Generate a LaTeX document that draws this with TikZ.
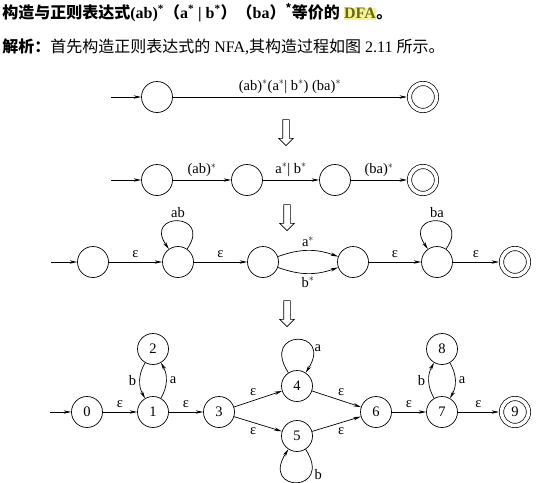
\documentclass[tikz,border=0pt]{standalone}
\usepackage{fontspec}
\setmainfont{Liberation Serif}
\newfontfamily\cjk{Noto Sans CJK SC}
\usepackage{tikz}
\usetikzlibrary{arrows.meta}
\usetikzlibrary{shapes.arrows}
\usetikzlibrary{positioning}
\definecolor{hlyellow}{rgb}{0.96,0.95,0.62}
\definecolor{dfaolive}{rgb}{0.42,0.42,0.05}

\begin{document}
\begin{tikzpicture}[->,
                    >={Stealth[length=7.5pt,width=3.4pt]},
                    x=1pt, y=-1pt,
                    line width=0.7pt,
                    font=\fontsize{14.5}{16}\selectfont,
                    nss/.style={circle,draw,minimum size=31pt,inner sep=0pt,font=\fontsize{14.5}{16}\selectfont},
                    fin/.style={nss,double,double distance=3.6pt,minimum size=27pt,outer sep=2.5pt},
                    dnarrow/.style={single arrow,draw,fill=white,rotate=-90,minimum height=26pt,inner sep=3pt,
                                    single arrow head extend=4pt,single arrow tip angle=90,line width=0.6pt},
                    %lbl/.style={inner sep=1pt}
                    ]
  \useasboundingbox (0,0) rectangle (554,482);
  % heading
  \node[anchor=west,inner sep=0pt] (title) at (2,13) {\fontsize{16}{18}\selectfont\bfseries\cjk
      构造与正则表达式{\rmfamily (ab)\textsuperscript{*}}（{\rmfamily a\textsuperscript{*} | b\textsuperscript{*}}）（{\rmfamily ba}）\textsuperscript{*}等价的
      {\setlength\fboxsep{0.5pt}\colorbox{hlyellow}{\textcolor{dfaolive}{\rmfamily DFA}}}。};
  \node[anchor=west,inner sep=0pt] (note) at (2,47) {\fontsize{16}{18}\selectfont
      {\cjk\bfseries 解析：}{\cjk 首先构造正则表达式的} NFA,{\cjk 其构造过程如图} 2.11 {\cjk 所示。}};

  % step 1
  \node[nss] (a0) at (157,97) {};
  \node[fin] (a1) at (423,97) {};
  \coordinate (s1) at (111,97);
  \draw (s1) -- (a0);
  \draw (a0) -- node[above] {(ab)$^*$(a$^*$| b$^*$) (ba)$^*$} (a1);
  \node[dnarrow] (d1) at (286,131) {};

  % step 2
  \node[nss] (b0) at (157,180) {};
  \node[nss] (b1) at (247,180) {};
  \node[nss] (b2) at (335,180) {};
  \node[fin] (b3) at (423,180) {};
  \coordinate (s2) at (111,180);
  \draw (s2) -- (b0);
  \draw (b0) -- node[above] {(ab)$^*$} (b1);
  \draw (b1) -- node[above] {a$^*$| b$^*$} (b2);
  \draw (b2) -- node[above] {(ba)$^*$} (b3);
  \node[dnarrow] (d2) at (287,216) {};

  % step 3
  \node[nss] (c0) at (93,262) {};
  \node[nss] (c1) at (178,262) {};
  \node[nss] (c2) at (263,262) {};
  \node[nss] (c3) at (353,262) {};
  \node[nss] (c4) at (437,262) {};
  \node[fin] (c5) at (515,262) {};
  \coordinate (s3) at (51,262);
  \draw (s3) -- (c0);
  \draw (c0) -- node[above=1pt] {ε} (c1);
  \draw (c1) edge[out=55,in=125,looseness=6.4] node[above] {ab} (c1);
  \draw (c1) -- node[above=1pt] {ε} (c2);
  \draw (c2) edge[bend left=20] node[above] {a$^*$} (c3);
  \draw (c2) edge[bend right=20] node[below] {b$^*$} (c3);
  \draw (c3) -- node[above=1pt] {ε} (c4);
  \draw (c4) edge[out=55,in=125,looseness=6.4] node[above] {ba} (c4);
  \draw (c4) -- node[above=1pt] {ε} (c5);
  \node[dnarrow] (d3) at (287,312) {};

  % step 4
  \node[nss] (0) at (87,412) {0};
  \node[nss] (1) at (153,412) {1};
  \node[nss] (2) at (153,349) {2};
  \node[nss] (3) at (219,412) {3};
  \node[nss] (4) at (297,386) {4};
  \node[nss] (5) at (297,436) {5};
  \node[nss] (6) at (376,412) {6};
  \node[nss] (7) at (442,412) {7};
  \node[nss] (8) at (442,349) {8};
  \node[fin] (9) at (515,412) {9};
  \coordinate (s4) at (50,412);
  \draw (s4) -- (0);
  \draw (0) -- node[above=1pt] {ε} (1);
  \draw (2) edge[bend right=30] node[left] {b} (1);
  \draw (1) edge[bend right=30] node[right] {a} (2);
  \draw (1) -- node[above=1pt] {ε} (3);
  \draw (3) -- node[above left=0pt and -2pt] {ε} (4);
  \draw (3) -- node[below left=0pt and -2pt] {ε} (5);
  \draw (4) edge[out=123,in=57,looseness=7.8] node[pos=0.75,right] {a} (4);
  \draw (5) edge[out=-57,in=-123,looseness=7.8] node[pos=0.25,right] {b} (5);
  \draw (4) -- node[above right=0pt and -2pt] {ε} (6);
  \draw (5) -- node[below right=0pt and -2pt] {ε} (6);
  \draw (6) -- node[above=1pt] {ε} (7);
  \draw (7) edge[bend left=30] node[left] {b} (8);
  \draw (8) edge[bend left=30] node[right] {a} (7);
  \draw (7) -- node[above=1pt] {ε} (9);
\end{tikzpicture}
\end{document}
